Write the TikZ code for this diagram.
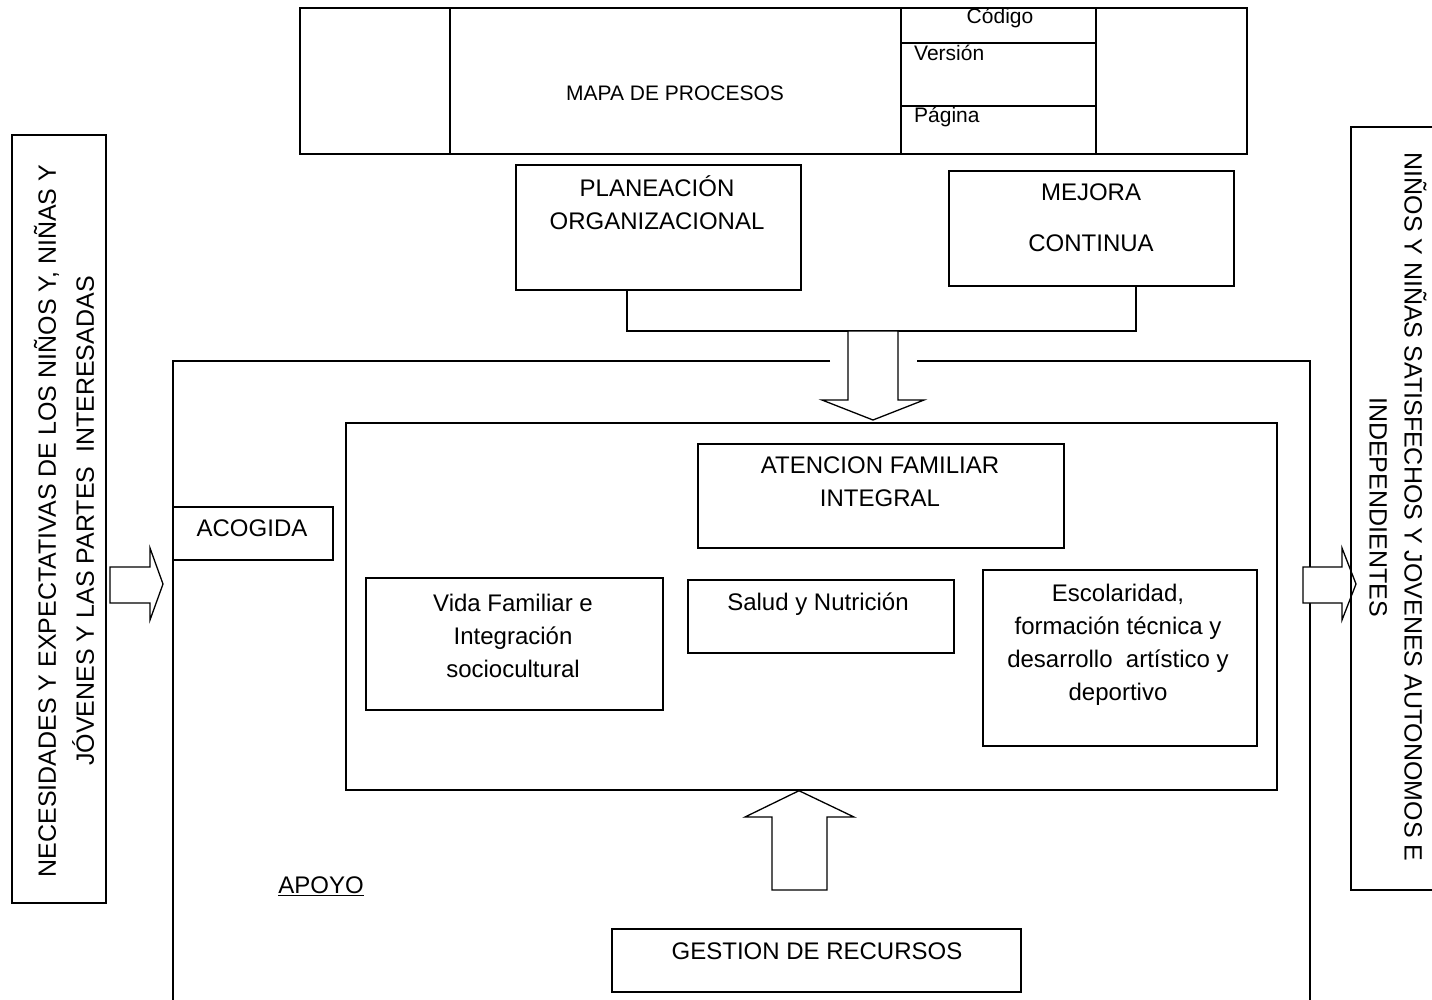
\documentclass[tikz,border=0pt]{standalone}
\usepackage{fontspec}
\setmainfont{Liberation Sans}
\usetikzlibrary{positioning,calc}

\tikzset{
  caja/.style={draw, rectangle, line width=1.4pt, inner sep=0pt},
  texto/.style={font=\fontsize{24}{33}\selectfont, align=center, inner sep=0pt},
  cabeza/.style={font=\fontsize{21}{25}\selectfont, inner sep=0pt},
  flecha/.style={draw, line width=1.3pt, fill=white, line join=miter},
}

\begin{document}
\begin{tikzpicture}[x=1pt,y=-1pt]
    \fill[white] (0,0) rectangle (1432,999);
    \useasboundingbox (0,0) rectangle (1432,999);
    % encabezado
    \node[caja, minimum width=150pt, minimum height=146pt](logo) at (375,81) {};
    \node[caja, minimum width=451pt, minimum height=146pt](mapa) at (675.5,81) {};
    \node[caja, minimum width=195pt, minimum height=35pt](codigo) at (998.5,25.5) {};
    \node[caja, minimum width=195pt, minimum height=63pt](version) at (998.5,74.5) {};
    \node[caja, minimum width=195pt, minimum height=48pt](pagina) at (998.5,130) {};
    \node[caja, minimum width=151pt, minimum height=146pt](firma) at (1171.5,81) {};
    \node[cabeza](mapaT) at (675,93) {MAPA DE PROCESOS};
    \node[cabeza](codigoT) at (1000,18) {Código};
    \node[cabeza, anchor=west](versionT) at (914,53) {Versión};
    \node[cabeza, anchor=west](paginaT) at (914,117) {Página};
    % estrategicos
    \node[caja, minimum width=285pt, minimum height=125pt](plan) at (658.5,227.5) {};
    \node[texto](planT) at (657,203) {PLANEACIÓN\\ORGANIZACIONAL};
    \node[caja, minimum width=285pt, minimum height=115pt](mejora) at (1091.5,228.5) {};
    \node[texto](mejoraT) at (1091,218) {MEJORA\\[18pt]CONTINUA};
    \coordinate (une) at (873,331);
    \draw[line width=1.4pt] ([xshift=-31.5pt]plan.south) |- (une) -| ([xshift=44.5pt]mejora.south);
    % apoyo
    \draw[line width=1.4pt] (830,361) -- (173,361) -- (173,1012);
    \draw[line width=1.4pt] (917,361) -- (1310,361) -- (1310,1012);
    \draw[flecha] (une) -- (898,331) -- (898,400) -- (924,400) -- (873,420) -- (822,400) -- (848,400) -- (848,331) -- cycle;
    % misionales
    \node[caja, minimum width=931pt, minimum height=367pt](interno) at (811.5,606.5) {};
    \node[caja, minimum width=366pt, minimum height=104pt](atencion) at (881,496) {};
    \node[texto](atencionT) at (880,482) {ATENCION FAMILIAR\\INTEGRAL};
    \node[caja, minimum width=297pt, minimum height=132pt](vida) at (514.5,644) {};
    \node[texto](vidaT) at (513,636) {Vida Familiar e\\Integración\\sociocultural};
    \node[caja, minimum width=266pt, minimum height=73pt](salud) at (821,616.5) {};
    \node[texto](saludT) at (818,604) {Salud y Nutrición};
    \node[caja, minimum width=274pt, minimum height=176pt](escolar) at (1120,658) {};
    \node[texto](escolarT) at (1118,645) {Escolaridad,\\formación técnica y\\desarrollo\ \ artístico y\\deportivo};
    \node[caja, minimum width=160pt, minimum height=53pt](acogida) at (253,533.5) {};
    \node[texto](acogidaT) at (252,528) {ACOGIDA};
    \draw[flecha] (interno.south -| 799,0) -- (854,817) -- (827,817) -- (827,890) -- (772,890) -- (772,817) -- (745,817) -- cycle;
    \node[caja, minimum width=409pt, minimum height=63pt](gestion) at (816.5,960.5) {};
    \node[texto](gestionT) at (817,951) {GESTION DE RECURSOS};
    \node[texto](apoyoT) at (321,886) {\underline{APOYO}};
    % entradas y salidas
    \node[caja, minimum width=94pt, minimum height=768pt](necesidades) at (59,519) {};
    \node[texto, font=\fontsize{25}{38}\selectfont, rotate=90](necesidadesT) at (64,521) {NECESIDADES Y EXPECTATIVAS DE LOS NIÑOS Y, NIÑAS Y\\JÓVENES Y LAS PARTES\ \ INTERESADAS};
    \draw[flecha] (110,567) -- (150,567) -- (150,548) -- (163,584) -- (150,620) -- (150,603) -- (110,603) -- cycle;
    \draw[flecha] (1303,567) -- (1342,567) -- (1342,548) -- (1356,584) -- (1342,620) -- (1342,603) -- (1303,603) -- cycle;
    \node[caja, minimum width=110pt, minimum height=763pt](ninos) at (1406,508.5) {};
    \node[texto, font=\fontsize{25}{35}\selectfont, rotate=-90](ninosT) at (1398,507) {NIÑOS Y NIÑAS SATISFECHOS Y JOVENES AUTONOMOS E\\INDEPENDIENTES};
\end{tikzpicture}
\end{document}
